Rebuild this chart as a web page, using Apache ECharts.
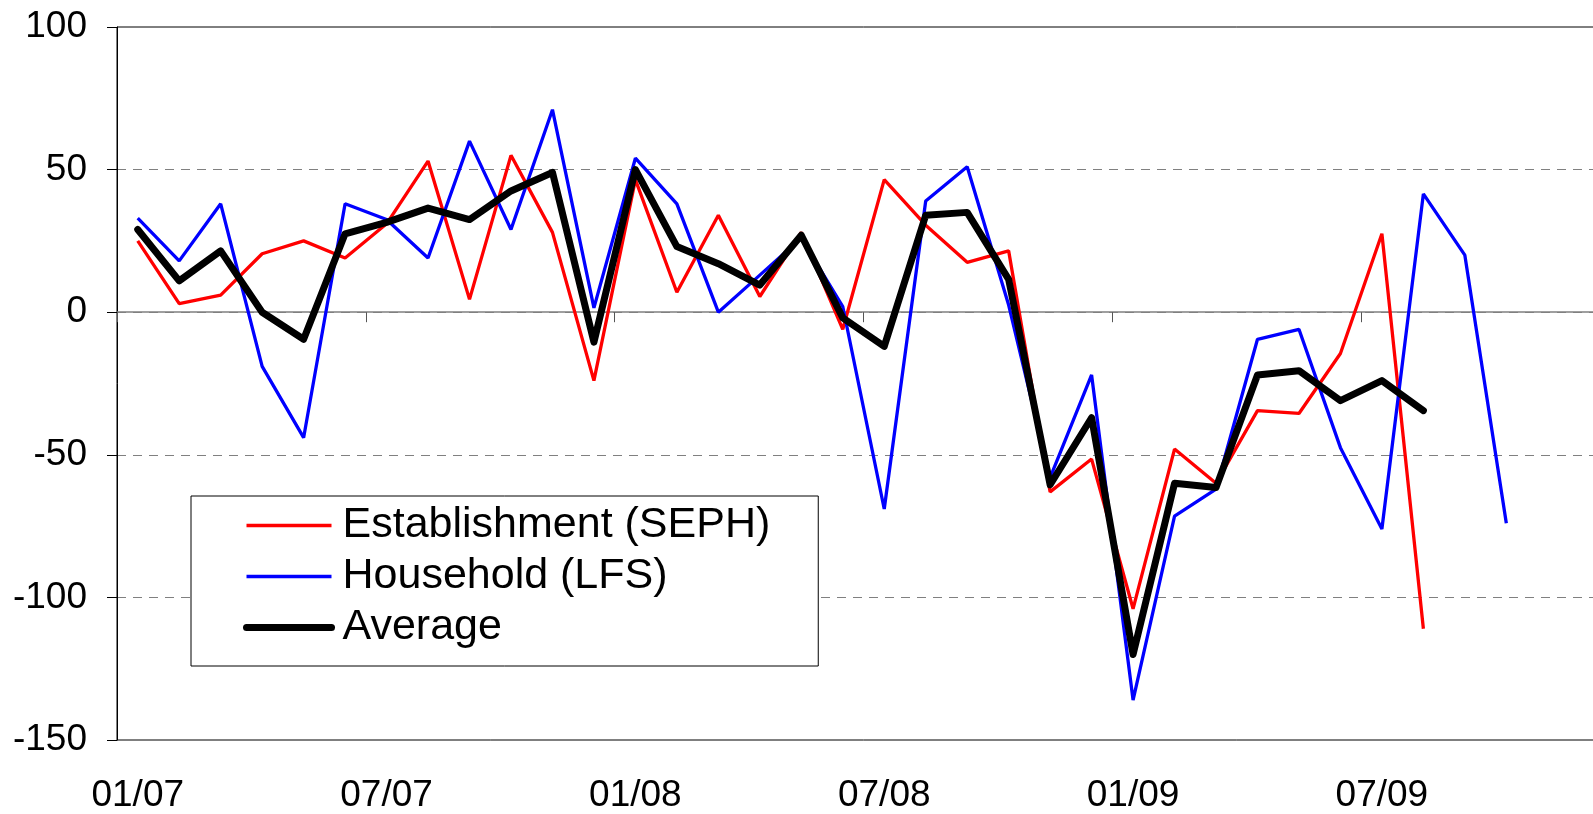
<!DOCTYPE html>
<html>
<head>
<meta charset="UTF-8">
<title>Employment change</title>
<script src="https://cdn.jsdelivr.net/npm/echarts@6/dist/echarts.min.js"></script>
<style>
  html, body { margin: 0; padding: 0; background: #fff; overflow: hidden; }
</style>
</head>
<body>
<!-- the chart is wider than the window: the right edge of the plot falls outside, as in the original -->
<div id="main" style="width:1610px;height:814px"></div>
<script>
// months 01/07 .. 12/09
var months = [];
for (var y = 7; y <= 9; y++) {
  for (var m = 1; m <= 12; m++) {
    months.push((m < 10 ? '0' + m : '' + m) + '/0' + y);
  }
}

var seph = [25, 3, 6, 20.5, 25, 19, 31, 53, 4.5, 55, 28, -24, 46.5, 7, 34, 5.5, 28, -6,
  46.5, 30.5, 17.5, 21.5, -63, -51.5, -104, -48, -60, -34.5, -35.5, -14.5, 27.5, -111];
var lfs = [33, 18, 38, -19, -44, 38, 32.5, 19, 60, 29, 71, 1.5, 54, 38, 0, 13, 26, 2,
  -69, 39, 51, 2.5, -58, -22, -136, -71.5, -62, -9.5, -6, -47.5, -76, 41.5, 20, -74];
var avg = [29, 11, 21.5, 0, -9.5, 27.5, 31.5, 36.5, 32.5, 42.5, 49, -10.5, 50, 23, 17, 9.5, 27, -2,
  -12, 34, 35, 11.5, -60.5, -37, -120, -60, -61.5, -22, -20.5, -31, -24, -34.5];

var names = ['Establishment (SEPH)', 'Household (LFS)', 'Average'];
var FONT = "'Liberation Sans', Arial, sans-serif";

var chart = echarts.init(document.getElementById('main'));

var option = {
  animation: false,
  backgroundColor: '#fff',
  grid: {
    left: 117, top: 27, bottom: 71, right: 0,
    show: true, borderColor: '#000', borderWidth: 1, backgroundColor: 'transparent'
  },
  legend: {
    orient: 'vertical',
    left: 191, top: 496,
    data: [
      { name: names[0], lineStyle: { width: 3.3 } },
      { name: names[1], lineStyle: { width: 3.3 } },
      { name: names[2], lineStyle: { width: 7, cap: 'round' } }
    ],
    backgroundColor: '#fff',
    borderColor: '#000',
    borderWidth: 1,
    padding: [8, 48, 17, 52],
    itemWidth: 85,
    itemHeight: 14,
    itemGap: 8,
    itemStyle: { opacity: 0 },
    textStyle: { fontFamily: FONT, fontSize: 43, color: '#000', padding: [0, 0, 0, 6] }
  },
  xAxis: [
    {
      type: 'category',
      data: months,
      position: 'bottom',
      boundaryGap: true,
      axisLine: { show: false, onZero: false },
      axisTick: { show: false },
      axisLabel: { interval: 5, margin: 37, fontFamily: FONT, fontSize: 37, color: '#000' },
      splitLine: { show: false }
    },
    {
      // zero line with ticks
      type: 'category',
      data: months,
      position: 'top',
      boundaryGap: true,
      axisLine: { show: true, onZero: true, lineStyle: { color: '#808080', width: 1.5 } },
      axisTick: { show: true, inside: true, interval: 5, length: 10, lineStyle: { color: '#555', width: 1 } },
      axisLabel: { show: false },
      splitLine: { show: false }
    }
  ],
  yAxis: {
    type: 'value',
    min: -150, max: 100, interval: 50,
    axisLine: { show: true, lineStyle: { color: '#000', width: 1 } },
    axisTick: { show: true, length: 10, lineStyle: { color: '#000' } },
    axisLabel: { margin: 30, fontFamily: FONT, fontSize: 37, color: '#000' },
    splitLine: {
      show: true, showMinLine: false, showMaxLine: false,
      lineStyle: { color: '#808080', width: 1, type: [9, 7] }
    }
  },
  series: [
    {
      name: names[0], type: 'line', data: seph, symbol: 'none',
      lineStyle: { color: '#ff0000', width: 3.3 }, itemStyle: { color: '#ff0000' }
    },
    {
      name: names[1], type: 'line', data: lfs, symbol: 'none',
      lineStyle: { color: '#0000ff', width: 3.3 }, itemStyle: { color: '#0000ff' }
    },
    {
      name: names[2], type: 'line', data: avg, symbol: 'none',
      lineStyle: { color: '#000', width: 7, join: 'round', cap: 'round' }, itemStyle: { color: '#000' }
    }
  ]
};

chart.setOption(option);
</script>
</body>
</html>
